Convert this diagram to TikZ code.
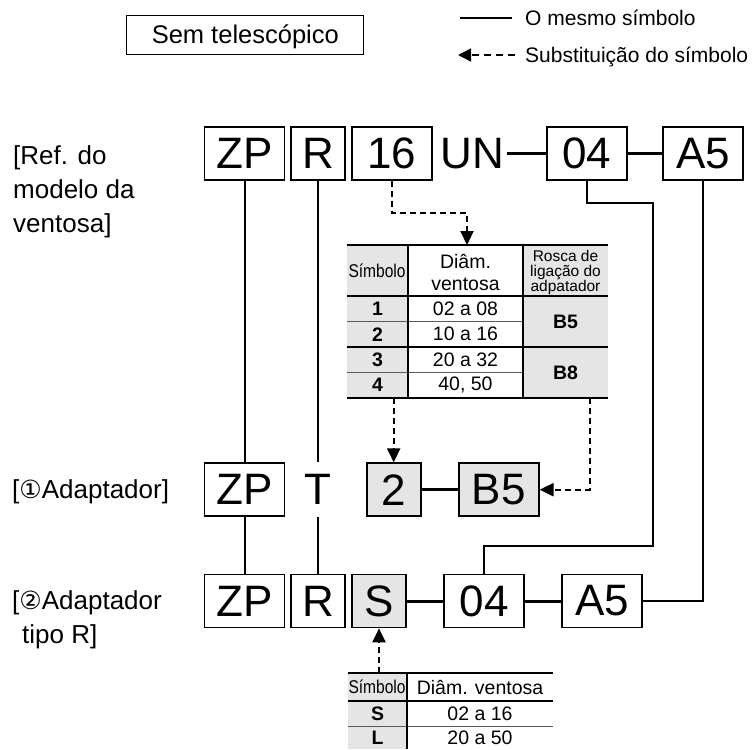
\documentclass[tikz,border=0pt]{standalone}
\usepackage{fontspec}
\setmainfont{Liberation Sans}
\newfontfamily\circfont{DejaVu Sans}
\usepackage{graphicx}
\usetikzlibrary{arrows.meta}
\newcommand{\fsz}[1]{\fontsize{#1}{#1}\selectfont}
\newcommand{\narrowtxt}[1]{\scalebox{0.84}[1]{#1}}

\begin{document}
\begin{tikzpicture}[x=1pt,y=-1pt,
  sym/.style={draw,line width=1.7pt,minimum width=80pt,minimum height=53pt,inner sep=0pt,font=\fsz{44}},
  symn/.style={sym,minimum width=54pt},
  sub/.style={fill=black!10},
  link/.style={line width=2pt},
  joint/.style={line width=3pt},
  subst/.style={line width=2.2pt,dash pattern=on 6pt off 4pt,-{Triangle[length=14pt,width=13pt]}},
  cell/.style={inner sep=0pt,font=\fsz{19.5}},
  label/.style={anchor=west,align=left,inner sep=0pt,font=\fontsize{26}{34}\selectfont}]
 \useasboundingbox (0,0) rectangle (754,749);
 \node[draw,line width=0.9pt,minimum width=237pt,minimum height=39pt,inner sep=0pt,
  text height=18.3pt,text depth=0pt,font=\fsz{25.5}] (mode) at (245.3,34.5) {Sem telescópico};
 \coordinate (lgA) at (460,18);
 \coordinate (lgB) at (512,18);
 \draw[line width=1.6pt] (lgA) -- (lgB);
 \node[anchor=base west,inner sep=0pt,font=\fsz{21}] (lgsame) at (525,25.5) {O mesmo símbolo};
 \coordinate (lgC) at (515,55);
 \coordinate (lgD) at (458,55);
 \draw[line width=1.5pt,dash pattern=on 7pt off 5pt,-{Triangle[length=13pt,width=13pt]}] (lgC) -- (lgD);
 \node[anchor=base west,inner sep=0pt,font=\fsz{21}] (lgsubst) at (525,62.5) {Substituição do símbolo};

 \node[label] (lref) at (13,192) {[Ref. do\\modelo da\\ventosa]};
 \node[label] (ladp) at (12,491.7) {[{\circfont\fsz{25}①}Adaptador]};
 \node[label] (ladr) at (12,620) {[{\circfont\fsz{25}②}Adaptador\\\hspace{10pt}tipo R]};

 \node[sym] (zp1) at (244.5,153.3) {ZP};
 \node[symn] (r1) at (318,153.3) {R};
 \node[sym] (n16) at (392,153.3) {16};
 \node[sym,draw=none,minimum width=0pt,inner sep=2pt] (un) at (472,153.3) {UN};
 \node[sym] (d04a) at (586.7,153.3) {04};
 \node[sym] (a5a) at (703,153.3) {A5};
 \draw[joint] (un) -- (d04a) (d04a) -- (a5a);

 \node[sym] (zp2) at (244.5,489.7) {ZP};
 \node[symn,draw=none] (t2) at (318,489.7) {T};
 \node[symn,sub] (s2) at (393.7,489.7) {2};
 \node[sym,sub] (b5) at (498.7,489.7) {B5};
 \draw[joint] (s2) -- (b5);

 \node[sym] (zp3) at (244.5,601) {ZP};
 \node[symn] (r3) at (318,601) {R};
 \node[symn,sub] (s3) at (379,601) {S};
 \node[sym] (d04b) at (484,601) {04};
 \node[sym] (a5b) at (602,601) {A5};
 \draw[joint] (s3) -- (d04b) (d04b) -- (a5b);

 \draw[link] (zp1) -- (zp2) (zp2) -- (zp3);
 \draw[link] (r1) -- (t2) (t2) -- (r3);
 \coordinate (k1) at (653.3,203);
 \coordinate (k2) at (653.3,546);
 \draw[link] (d04a.south) |- (k1) -- (k2) -| (d04b.north);
 \draw[link] (a5a.south) |- (a5b.east);

 \node[inner sep=0pt,minimum width=261pt,minimum height=153pt,anchor=north west] (tabA) at (347,245) {};
 \fill[black!10] (347,245) rectangle (408,398) (523,245) rectangle (608,398);
 \draw[black!65,line width=0.9pt] (347,321.5) -- (523,321.5) (347,372.5) -- (523,372.5);
 \draw[line width=1.1pt] (347,296) -- (608,296) (347,347) -- (608,347)
  (408,245) -- (408,398) (523,245) -- (523,398);
 \draw[line width=2.2pt] (347,245) -- (608,245) (347,398) -- (608,398);
 \node[cell] (hA1) at (377,270.5) {\narrowtxt{\fsz{18.5}Símbolo}};
 \node[cell,align=center,font=\fontsize{19.5}{22}\selectfont] (hA2) at (465.5,272) {Diâm.\\ventosa};
 \node[cell,align=center,font=\fontsize{15.5}{14.5}\selectfont] (hA3) at (565.5,272.5) {Rosca de\\ligação do\\adpatador};
 \node[cell,font=\bfseries\fsz{19.5}] (sA1) at (377.5,308.7) {1};
 \node[cell,font=\bfseries\fsz{19.5}] (sA2) at (377.5,334.2) {2};
 \node[cell,font=\bfseries\fsz{19.5}] (sA3) at (377.5,359.7) {3};
 \node[cell,font=\bfseries\fsz{19.5}] (sA4) at (377.5,385.2) {4};
 \node[cell] (dA1) at (465.5,308.7) {02 a 08};
 \node[cell] (dA2) at (465.5,334.2) {10 a 16};
 \node[cell] (dA3) at (465.5,359.7) {20 a 32};
 \node[cell] (dA4) at (465.5,385.2) {40, 50};
 \node[cell,font=\bfseries\fsz{19.5}] (thA1) at (565.5,321.5) {B5};
 \node[cell,font=\bfseries\fsz{19.5}] (thA2) at (565.5,372.5) {B8};

 \coordinate (fork) at (467,213);
 \coordinate (bend) at (590,489.7);
 \draw[subst] (n16.south) |- (fork) -- (tabA.north -| fork);
 \draw[subst] (tabA.south -| s2.north) -- (s2.north);
 \draw[subst] (tabA.south -| bend) -- (bend) -- (b5.east);

 \node[inner sep=0pt,minimum width=205pt,minimum height=76pt,anchor=north west] (tabB) at (348,673) {};
 \fill[black!10] (348,673) rectangle (407,749);
 \draw[black!65,line width=0.9pt] (348,726) -- (553,726);
 \draw[line width=1.1pt] (348,701) -- (553,701) (407,673) -- (407,749);
 \draw[line width=2.2pt] (348,673) -- (553,673);
 \node[cell] (hB1) at (377,687) {\narrowtxt{\fsz{18.5}Símbolo}};
 \node[cell,font=\fsz{19.5}] (hB2) at (480,687) {Diâm. ventosa};
 \node[cell,font=\bfseries\fsz{19.5}] (sB1) at (377.5,713.5) {S};
 \node[cell,font=\bfseries\fsz{19.5}] (sB2) at (377.5,738) {L};
 \node[cell] (dB1) at (480,713.5) {02 a 16};
 \node[cell] (dB2) at (480,738) {20 a 50};
 \draw[subst] (tabB.north -| s3.south) -- (s3.south);
\end{tikzpicture}
\end{document}
